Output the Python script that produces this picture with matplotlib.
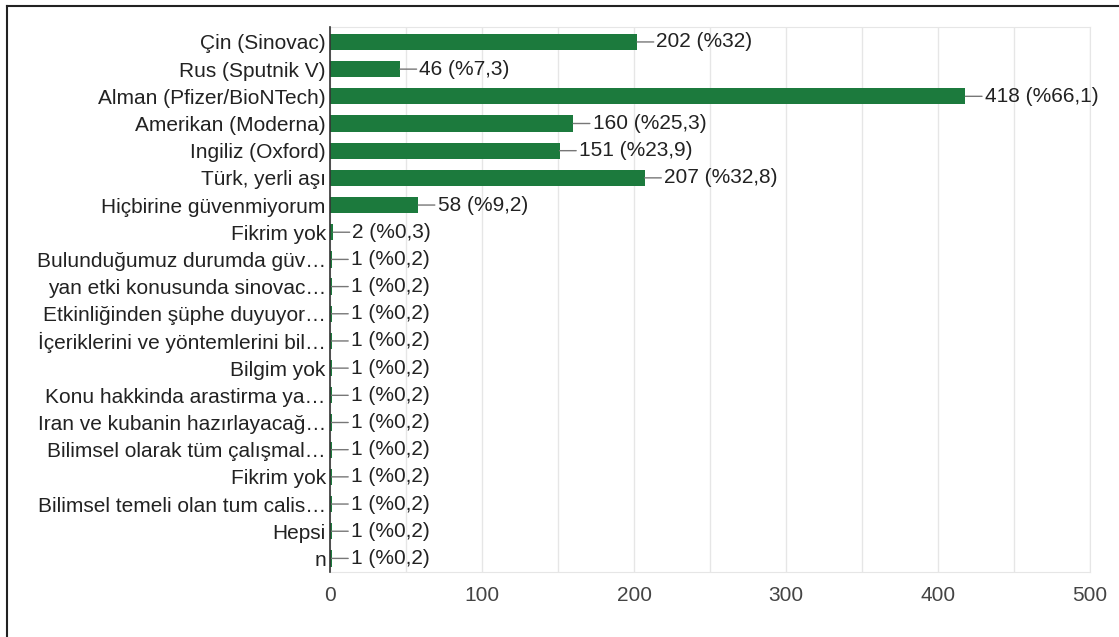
import matplotlib.pyplot as plt
from matplotlib.lines import Line2D

plt.rcParams['font.family'] = ['Liberation Sans', 'DejaVu Sans']

kategoriler = ['Çin (Sinovac)', 'Rus (Sputnik V)', 'Alman (Pfizer/BioNTech)',
               'Amerikan (Moderna)', 'Ingiliz (Oxford)', 'Türk, yerli aşı',
               'Hiçbirine güvenmiyorum', 'Fikrim yok', 'Bulunduğumuz durumda güv…',
               'yan etki konusunda sinovac…', 'Etkinliğinden şüphe duyuyor…',
               'İçeriklerini ve yöntemlerini bil…', 'Bilgim yok',
               'Konu hakkinda arastirma ya…', 'Iran ve kubanin hazırlayacağ…',
               'Bilimsel olarak tüm çalışmal…', 'Fikrim yok',
               'Bilimsel temeli olan tum calis…', 'Hepsi', 'n']
sayilar = [202, 46, 418, 160, 151, 207, 58, 2, 1, 1, 1, 1, 1, 1, 1, 1, 1, 1, 1, 1]
yuzdeler = ['32', '7,3', '66,1', '25,3', '23,9', '32,8', '9,2', '0,3',
            '0,2', '0,2', '0,2', '0,2', '0,2', '0,2', '0,2', '0,2', '0,2', '0,2', '0,2', '0,2']

fig = plt.figure(figsize=(11.19, 6.37), dpi=100)
ax = fig.add_axes([330 / 1119, 1 - 572 / 637, 760 / 1119, 545 / 637])

y = list(range(len(kategoriler)))
ax.barh(y, sayilar, height=0.6, color='#1c7a3d', zorder=3)

# etiketler: cubuk sonundan kisa gri cizgi + metin
for i, (s, p) in enumerate(zip(sayilar, yuzdeler)):
    ax.annotate(f'{s} ({"%"}{p})', xy=(s, i), xytext=(14, 0), textcoords='offset points',
                va='center', ha='left', fontsize=15, color='#222222',
                arrowprops=dict(arrowstyle='-', color='#777777', lw=1, shrinkA=0, shrinkB=0))

ax.set_xlim(0, 500)
ax.set_ylim(19.5, -0.55)
ax.set_yticks(y)
ax.set_yticklabels(kategoriler, fontsize=15, color='#222222')
ax.set_xticks([0, 100, 200, 300, 400, 500])
ax.set_xticks([50, 150, 250, 350, 450], minor=True)
ax.tick_params(axis='x', which='both', length=0, pad=10, labelsize=15, labelcolor='#444444')
ax.tick_params(axis='y', length=0, pad=3)
ax.grid(axis='x', which='both', color='#e6e6e6', lw=1, zorder=0)

for k in ['top', 'right', 'bottom']:
    ax.spines[k].set_color('#e6e6e6')
ax.spines['left'].set_color('#333333')
ax.spines['left'].set_linewidth(1.2)
ax.spines['left'].set_zorder(4)

# cerceve (sol ve ust)
fig.add_artist(Line2D([7 / 1119, 7 / 1119], [0, 1 - 6 / 637], color='#222222', lw=1.5))
fig.add_artist(Line2D([7 / 1119, 1], [1 - 6 / 637, 1 - 6 / 637], color='#222222', lw=1.5))

plt.savefig('out.png', dpi=100)
